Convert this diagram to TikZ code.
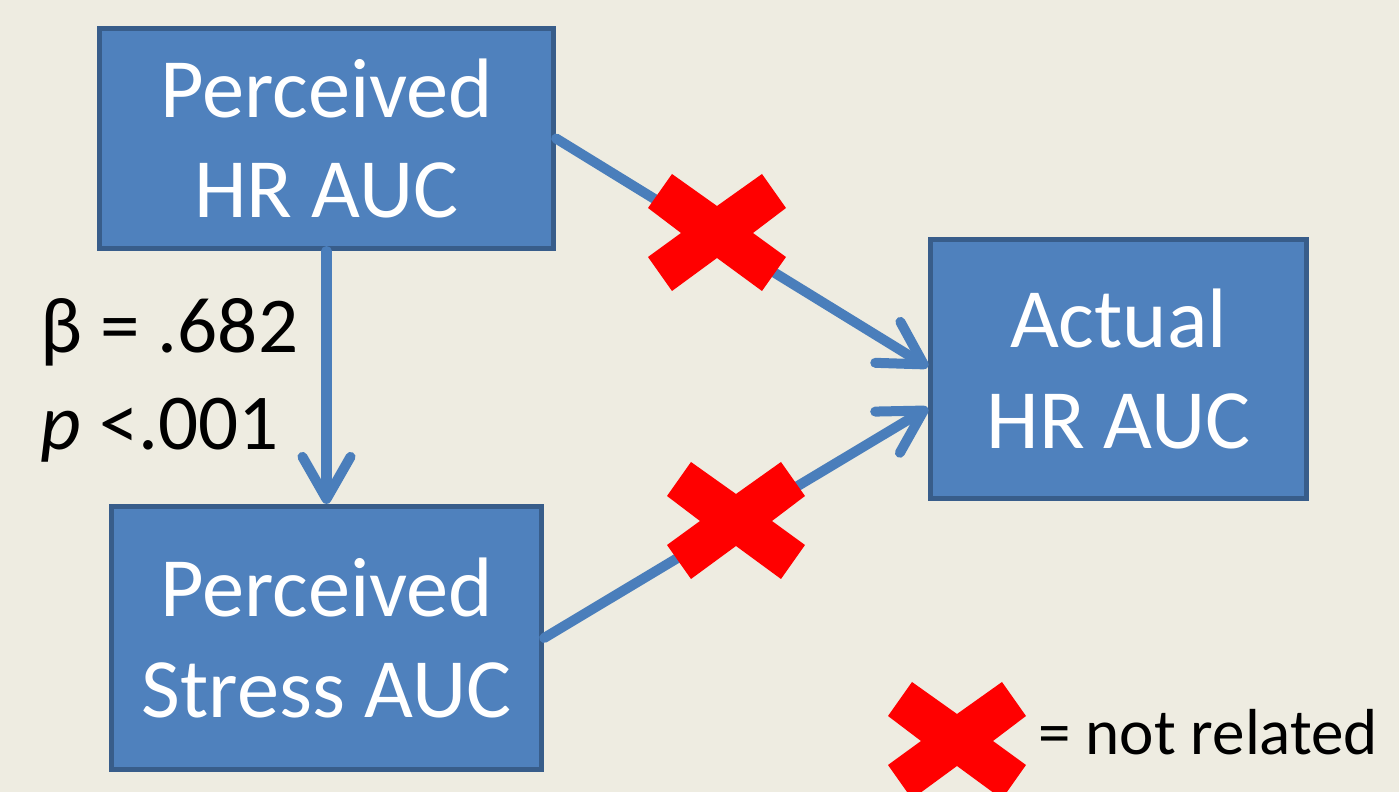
\documentclass[tikz,border=0pt]{standalone}
\usepackage{fontspec}
\setmainfont{Carlito}
\usetikzlibrary{arrows.meta}
\definecolor{bgc}{HTML}{EEECE1}
\definecolor{boxfill}{HTML}{4F81BD}
\definecolor{boxline}{HTML}{385D8A}
\definecolor{arrowc}{HTML}{4A7EBB}
\tikzset{
  varbox/.style={draw=boxline, fill=boxfill, line width=0.05cm, text=white,
    font=\fontsize{24}{28.7}\selectfont, align=center, inner sep=0pt},
  conn/.style={draw=arrowc, line width=0.1cm, line cap=round,
    -{Straight Barb[length=0.42cm, width=0.48cm, round]}},
  lbl/.style={inner sep=0pt, text=black, anchor=base west},
  redx/.pic={\fill[red] (-45,-59) -- (0,-27) -- (45,-59) -- (69,-25) -- (36,0) -- (69,24)
     -- (45,58) -- (0,25) -- (-45,58) -- (-69,24) -- (-36,0) -- (-69,-25) -- cycle;}
}
\begin{document}
\begin{tikzpicture}[x=0.01cm, y=-0.01cm]
\clip (0,0) rectangle (1399,792);
\fill[bgc] (0,0) rectangle (1399,792);
\node[varbox, minimum width=4.54cm, minimum height=2.20cm] (phr) at (326.5,138.5) {Perceived\\HR AUC};
\node[varbox, minimum width=4.30cm, minimum height=2.63cm] (pst) at (326.5,638) {Perceived\\Stress AUC};
\node[varbox, minimum width=3.76cm, minimum height=2.59cm] (act) at (1118.5,369) {Actual\\HR AUC};
\draw[conn] (phr.south) -- (pst.north);
\draw[conn] (phr.east) -- ([yshift=0.02cm]act.west);
\draw[conn] (pst.east) -- ([yshift=-0.39cm]act.west);
\pic at (717,233) {redx};
\pic at (736,521) {redx};
\pic at (957,741) {redx};
\node[lbl, font=\fontsize{22.5}{27}\selectfont] (beta) at (40,353) {β = .682};
\node[lbl, font=\fontsize{22.5}{27}\selectfont] (pval) at (40,450) {\textit{p} <.001};
\node[lbl, font=\fontsize{18.5}{22}\selectfont] (leg) at (1038,755) {= not related};
\end{tikzpicture}
\end{document}
